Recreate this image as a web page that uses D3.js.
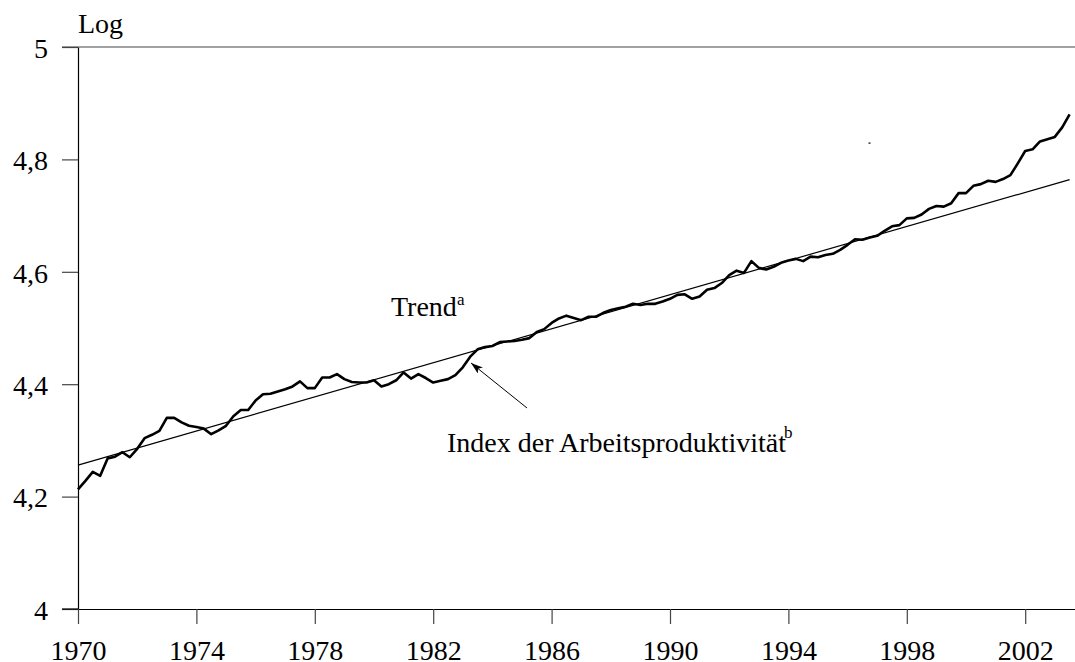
<!DOCTYPE html>
<html>
<head>
<meta charset="utf-8">
<script src="https://cdn.jsdelivr.net/npm/d3@7"></script>
<style>
  html, body { margin: 0; padding: 0; background: #fff; }
  svg { display: block; }
  text { font-family: "Liberation Serif", "DejaVu Serif", serif; fill: #000; }
</style>
</head>
<body>
<svg id="chart" width="1075" height="662"></svg>
<script>
// ---- Data ----
const startYear = 1970;           // first quarter 1970 Q1
const quarterStep = 0.25;
const productivity = [
  4.213, 4.228, 4.244, 4.237, 4.268, 4.271, 4.279, 4.270,
  4.285, 4.304, 4.310, 4.317, 4.340, 4.340, 4.332, 4.326,
  4.324, 4.321, 4.311, 4.318, 4.326, 4.343, 4.354, 4.354,
  4.371, 4.382, 4.383, 4.387, 4.391, 4.396, 4.405, 4.393,
  4.393, 4.412, 4.412, 4.418, 4.409, 4.404, 4.403, 4.403,
  4.407, 4.396, 4.400, 4.407, 4.421, 4.410, 4.418, 4.411,
  4.403, 4.406, 4.409, 4.416, 4.430, 4.449, 4.462, 4.466,
  4.468, 4.475, 4.476, 4.477, 4.479, 4.482, 4.493, 4.498,
  4.509, 4.517, 4.522, 4.518, 4.514, 4.520, 4.520, 4.527,
  4.532, 4.535, 4.538, 4.543, 4.541, 4.543, 4.543, 4.547,
  4.552, 4.559, 4.560, 4.552, 4.556, 4.568, 4.571, 4.580,
  4.594, 4.602, 4.598, 4.619, 4.607, 4.604, 4.609, 4.616,
  4.620, 4.623, 4.619, 4.627, 4.626, 4.630, 4.632, 4.639,
  4.648, 4.658, 4.657, 4.661, 4.664, 4.673, 4.681, 4.683,
  4.695, 4.696, 4.702, 4.712, 4.717, 4.716, 4.722, 4.740,
  4.740, 4.753, 4.756, 4.762, 4.760, 4.765, 4.772, 4.793,
  4.815, 4.818, 4.832, 4.836, 4.840, 4.857, 4.880
];
const trendYears = [1970, 2003.5];
const trendValues = [4.256, 4.764];
const xTickYears = [1970, 1974, 1978, 1982, 1986, 1990, 1994, 1998, 2002];
const yTickValues = [4, 4.2, 4.4, 4.6, 4.8, 5];
const yTickLabels = ["4", "4,2", "4,4", "4,6", "4,8", "5"];
const xDomain = [1970, 2004];
const yDomain = [4, 5];

// ---- Layout ----
const svg = d3.select("#chart");
const plotLeft = 78, plotTop = 47, plotBottom = 609;
const yearPx = 29.6;
const x = d3.scaleLinear().domain(xDomain).range([plotLeft, plotLeft + (xDomain[1] - xDomain[0]) * yearPx]);
const y = d3.scaleLinear().domain(yDomain).range([plotBottom, plotTop]);

const fontSize = 28;

// top frame line at 5
svg.append("line")
  .attr("x1", plotLeft - 16).attr("x2", x(xDomain[1]))
  .attr("y1", y(5)).attr("y2", y(5))
  .attr("stroke", "#444").attr("stroke-width", 1.2);

// Y axis
const yAxis = d3.axisLeft(y)
  .tickValues(yTickValues)
  .tickSize(16)
  .tickSizeOuter(0)
  .tickPadding(14)
  .tickFormat((d, i) => yTickLabels[i]);
const gy = svg.append("g").attr("transform", `translate(${plotLeft},0)`).call(yAxis);
gy.select(".domain").attr("stroke", "#000").attr("stroke-width", 1.2);
gy.selectAll(".tick line").attr("stroke", "#444").attr("stroke-width", 1.2);
gy.selectAll(".tick text")
  .attr("dy", "0.37em")
  .style("font-family", '"Liberation Serif", serif')
  .style("font-size", fontSize + "px")
  .attr("fill", "#000");

// X axis
const xAxis = d3.axisBottom(x)
  .tickValues(xTickYears)
  .tickSize(15)
  .tickSizeOuter(0)
  .tickFormat(d3.format("d"));
const gx = svg.append("g").attr("transform", `translate(0,${plotBottom})`).call(xAxis);
gx.select(".domain").attr("stroke", "#000").attr("stroke-width", 1.2);
gx.selectAll(".tick line").attr("stroke", "#444").attr("stroke-width", 1.2);
gx.selectAll(".tick text")
  .attr("y", 51).attr("dy", 0)
  .style("font-family", '"Liberation Serif", serif')
  .style("font-size", fontSize + "px")
  .attr("fill", "#000");
svg.append("line")
  .attr("x1", plotLeft - 16).attr("x2", plotLeft)
  .attr("y1", plotBottom).attr("y2", plotBottom)
  .attr("stroke", "#000").attr("stroke-width", 1.2);

// "Log" label
svg.append("text")
  .attr("x", plotLeft).attr("y", 33)
  .style("font-size", fontSize + "px")
  .text("Log");

// Trend line
const trendData = trendYears.map((yr, i) => ({ t: yr, v: trendValues[i] }));
svg.append("path")
  .datum(trendData)
  .attr("fill", "none")
  .attr("stroke", "#000")
  .attr("stroke-width", 1.2)
  .attr("d", d3.line().x(d => x(d.t)).y(d => y(d.v)));

// Productivity line
const prodData = productivity.map((v, i) => ({ t: startYear + i * quarterStep, v }));
svg.append("path")
  .datum(prodData)
  .attr("fill", "none")
  .attr("stroke", "#000")
  .attr("stroke-width", 2.6)
  .attr("stroke-linejoin", "round")
  .attr("d", d3.line().x(d => x(d.t)).y(d => y(d.v)));

// Annotations
const trendLabel = svg.append("text")
  .attr("x", 391).attr("y", 316)
  .style("font-size", fontSize + "px");
trendLabel.append("tspan").text("Trend");
trendLabel.append("tspan").attr("dy", -11).style("font-size", "17px").text("a");

svg.append("text")
  .attr("x", 447).attr("y", 452)
  .style("font-size", fontSize + "px")
  .text("Index der Arbeitsproduktivität");
svg.append("text")
  .attr("x", 784).attr("y", 438)
  .style("font-size", "17px")
  .text("b");

// Arrow
const defs = svg.append("defs");
defs.append("marker")
  .attr("id", "arrow")
  .attr("viewBox", "0 0 12 8")
  .attr("refX", 12).attr("refY", 4)
  .attr("markerWidth", 12).attr("markerHeight", 8)
  .attr("markerUnits", "userSpaceOnUse")
  .attr("orient", "auto")
  .append("path")
  .attr("d", "M0,0 L12,4 L0,8 L3,4 Z")
  .attr("fill", "#000");
svg.append("line")
  .attr("x1", 527).attr("y1", 408)
  .attr("x2", 471).attr("y2", 363)
  .attr("stroke", "#000").attr("stroke-width", 1)
  .attr("marker-end", "url(#arrow)");

// small stray dot seen in the original
svg.append("rect")
  .attr("x", 868.5).attr("y", 142.5).attr("width", 2).attr("height", 1.2)
  .attr("fill", "#000");
</script>
</body>
</html>
